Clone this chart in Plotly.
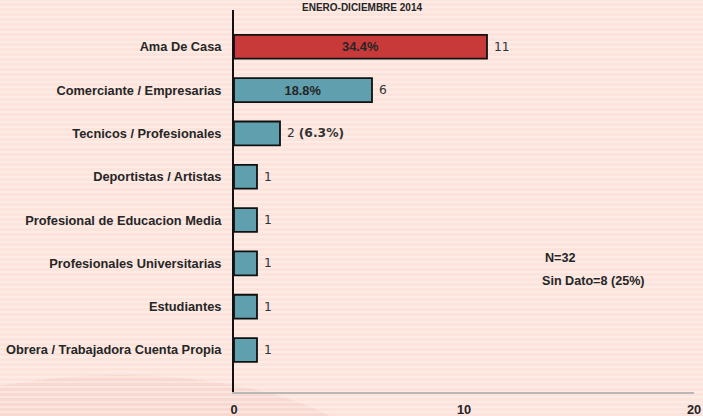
import plotly.graph_objects as go

categories = ["Obrera / Trabajadora Cuenta Propia", "Estudiantes", "Profesionales Universitarias",
              "Profesional de Educacion Media", "Deportistas / Artistas", "Tecnicos / Profesionales",
              "Comerciante / Empresarias", "Ama De Casa"]
counts = [1, 1, 1, 1, 1, 2, 6, 11]
inside_pct = ["", "", "", "", "", "", "18.8%", "34.4%"]
outside_pct = ["", "", "", "", "", "6.3%", "", ""]
colors = ["#5f9fae"] * 7 + ["#c83a3a"]
notes = ["N=32", "Sin Dato=8 (25%)"]
title = "ENERO-DICIEMBRE 2014"

W, H = 703, 416
ML, MR, MT, MB = 234, 9, 10, 24
PW, PH = W - ML - MR, H - MT - MB

def px(x):
    return (x - ML) / PW

def py(y):
    return (H - MB - y) / PH

font_b = "Liberation Sans, Arial, sans-serif"
dark = "#262626"

fig = go.Figure()
fig.add_trace(go.Bar(
    y=categories, x=counts, orientation="h", width=0.55,
    marker=dict(color=colors, line=dict(color="#111111", width=1.8)),
    text=inside_pct, textposition="inside", insidetextanchor="middle",
    textfont=dict(family=font_b, size=12.8, color=dark, weight="bold"),
    hoverinfo="skip", cliponaxis=False,
))

annotations = []
for c, v, p in zip(categories, counts, outside_pct):
    txt = f"{v}" + (f" <b>({p})</b>" if p else "")
    annotations.append(dict(x=v, y=c, xref="x", yref="y", text=txt, showarrow=False,
                            xanchor="left", xshift=5,
                            font=dict(family="DejaVu Sans, sans-serif", size=12.3, color="#333333")))
annotations += [
    dict(text=notes[0], x=px(560), y=py(267), xref="paper", yref="paper", showarrow=False,
         xanchor="center", font=dict(family=font_b, size=12.6, color=dark, weight="bold")),
    dict(text=notes[1], x=px(593), y=py(290), xref="paper", yref="paper", showarrow=False,
         xanchor="center", font=dict(family=font_b, size=12.6, color=dark, weight="bold")),
    dict(text=title, x=px(362), y=py(0), xref="paper", yref="paper", showarrow=False,
         xanchor="center", yanchor="top", font=dict(family=font_b, size=10, color=dark, weight="bold")),
]

# background texture: light horizontal stripes and a soft curved shape at lower left
shapes = [dict(type="circle", xref="paper", yref="paper", x0=px(-140), x1=px(380), y0=py(375), y1=py(575),
               fillcolor="#f8d9d1", line=dict(width=0), layer="below")]
for yy in range(2, H, 5):
    shapes.append(dict(type="line", xref="paper", yref="paper", x0=px(0), x1=px(W), y0=py(yy), y1=py(yy),
                       line=dict(color="rgba(255,245,242,0.6)", width=1.5), layer="below"))

fig.update_layout(
    width=W, height=H,
    margin=dict(l=ML, r=MR, t=MT, b=MB),
    paper_bgcolor="#fce3dc", plot_bgcolor="rgba(0,0,0,0)",
    showlegend=False,
    annotations=annotations,
    shapes=shapes,
    xaxis=dict(range=[0, 20], tickvals=[0, 10, 20], showgrid=False, zeroline=False, automargin=False,
               showline=True, linecolor="#b8b8b8", linewidth=2, ticks="", ticklabelstandoff=5,
               tickfont=dict(family=font_b, size=12.8, color=dark, weight="bold")),
    yaxis=dict(range=[-0.97, 7.85], showgrid=False, zeroline=False, showline=True, automargin=False,
               linecolor="#111111", linewidth=2, ticks="", ticklabelstandoff=8,
               tickfont=dict(family=font_b, size=12.8, color=dark, weight="bold")),
)

fig.write_html("out.html", config={"displayModeBar": False},
               post_script="document.body.style.margin='0';document.body.style.overflow='hidden';")
